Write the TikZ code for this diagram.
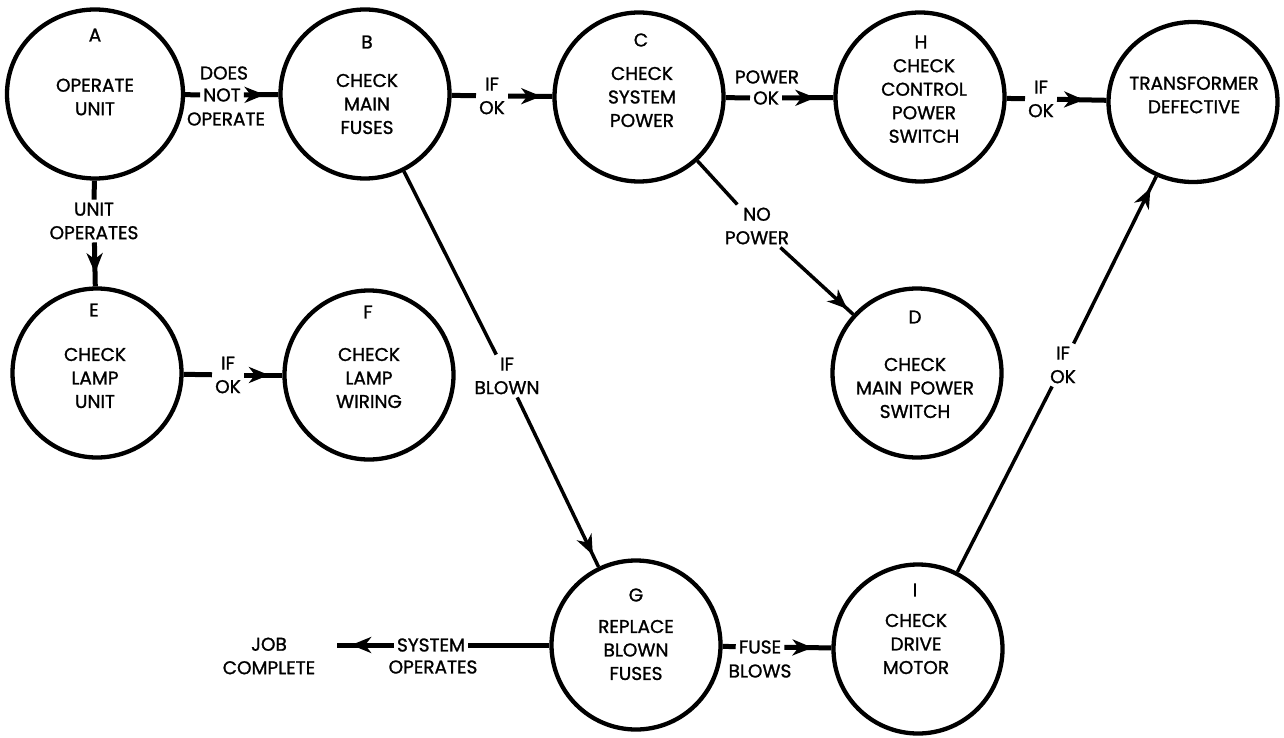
\documentclass[tikz,border=0pt]{standalone}
\usepackage{fontspec}
\setmainfont{Poppins}[FakeBold=1.2]
\usetikzlibrary{arrows.meta,decorations.markings,shapes.geometric}

\tikzset{
  circ/.style={ellipse,draw,line width=4.3pt,minimum width=169pt,minimum height=169pt,inner sep=0pt},
  body/.style={align=center,inner sep=0pt,font=\fontsize{18.5}{23.5}\selectfont},
  clabel/.style={align=center,inner sep=3pt,font=\fontsize{18.5}{23.5}\selectfont},
  hline/.style={line width=5pt},
  dline/.style={line width=3.5pt},
  midarrow/.style={postaction={decorate},decoration={markings,mark=at position #1 with {\arrow{Stealth[length=20pt,width=16pt,inset=6pt]}}}},
}

\begin{document}
\begin{tikzpicture}[x=1pt,y=-1pt]
\useasboundingbox (0,0) rectangle (1284,738);

% circles
\node[circ,minimum width=176pt] (A) at (95,94) {};
\node[circ] (B) at (365,94) {};
\node[circ] (C) at (639,97) {};
\node[circ] (H) at (920,97) {};
\node[circ,minimum height=160pt] (T) at (1193,102) {};
\node[circ] (E) at (97,373) {};
\node[circ] (F) at (369,375) {};
\node[circ] (D) at (917,373) {};
\node[circ] (G) at (636,645) {};
\node[circ] (I) at (918,649) {};

% texts in circles
\node[body] (Al) at (95,35) {A};
\node[body] (At) at (95,97) {OPERATE\\UNIT};
\node[body] (Bl) at (367,42) {B};
\node[body] (Bt) at (367,104) {CHECK\\MAIN\\FUSES};
\node[body] (Cl) at (641,40) {C};
\node[body] (Ct) at (642,97) {CHECK\\SYSTEM\\POWER};
\node[body] (Hl) at (921,42) {H};
\node[body] (Ht) at (924,101) {CHECK\\CONTROL\\POWER\\SWITCH};
\node[body] (Tt) at (1194,95) {TRANSFORMER\\DEFECTIVE};
\node[body] (El) at (94,310) {E};
\node[body] (Et) at (95,378) {CHECK\\LAMP\\UNIT};
\node[body] (Fl) at (368,312) {F};
\node[body] (Ft) at (369,378) {CHECK\\LAMP\\WIRING};
\node[body] (Dl) at (915,317) {D};
\node[body] (Dt) at (915,388) {CHECK\\MAIN\hspace{8pt}POWER\\SWITCH};
\node[body] (Gl) at (636,595) {G};
\node[body] (Gt) at (636,650) {REPLACE\\BLOWN\\FUSES};
\node[body] (Il) at (915,590) {I};
\node[body] (It) at (916,644) {CHECK\\DRIVE\\MOTOR};

% connector labels
\node[clabel] (AB) at (222,95) {NOT};
\node[body] (ABa) at (224,73) {DOES};
\node[body] (ABb) at (226,119) {OPERATE};
\node[clabel] (AE) at (94,221) {UNIT\\OPERATES};
\node[clabel] (BC) at (492,96) {IF\\OK};
\node[clabel] (CH) at (766,98) {OK};
\node[body] (CHa) at (767,77) {POWER};
\node[clabel] (HT) at (1041,99) {IF\\OK};
\node[clabel] (EF) at (228,375) {IF\\OK};
\node[clabel] (BG) at (507,376) {IF\\BLOWN};
\node[clabel] (CD) at (757,226) {NO\\POWER};
\node[clabel] (IT) at (1063,365) {IF\\OK};
\node[clabel] (GI) at (760,647) {FUSE};
\node[body] (GIb) at (760,671) {BLOWS};
\node[clabel] (SY) at (431,645) {SYSTEM};
\node[body] (SYb) at (433,667) {OPERATES};
\node[body] (JB) at (269,656) {JOB\\COMPLETE};
\coordinate (JBend) at (337,645);

% connectors
\draw[hline] (A) -- (AB);
\draw[hline,midarrow=0.6] (AB) -- (B);
\draw[hline] (A) -- (AE);
\draw[hline,midarrow=0.7] (AE) -- (E);
\draw[hline] (B) -- (BC);
\draw[hline,midarrow=0.75] (BC) -- (C);
\draw[hline] (C) -- (CH);
\draw[hline,midarrow=0.65] (CH) -- (H);
\draw[hline] (H) -- (HT);
\draw[hline,midarrow=0.55] (HT) -- (T);
\draw[hline] (E) -- (EF);
\draw[hline,midarrow=0.65] (EF) -- (F);
\draw[dline] (B) -- (BG);
\draw[dline,midarrow=0.93] (BG) -- (G);
\draw[dline] (C) -- (CD);
\draw[dline,midarrow=0.92] (CD) -- (D);
\draw[dline] (I) -- (IT);
\draw[dline,midarrow=0.93] (IT) -- (T);
\draw[hline] (G) -- (GI);
\draw[hline,midarrow=0.6] (GI) -- (I);
\draw[hline] (G) -- (SY);
\draw[hline,midarrow=0.75] (SY) -- (JBend);
\end{tikzpicture}
\end{document}
